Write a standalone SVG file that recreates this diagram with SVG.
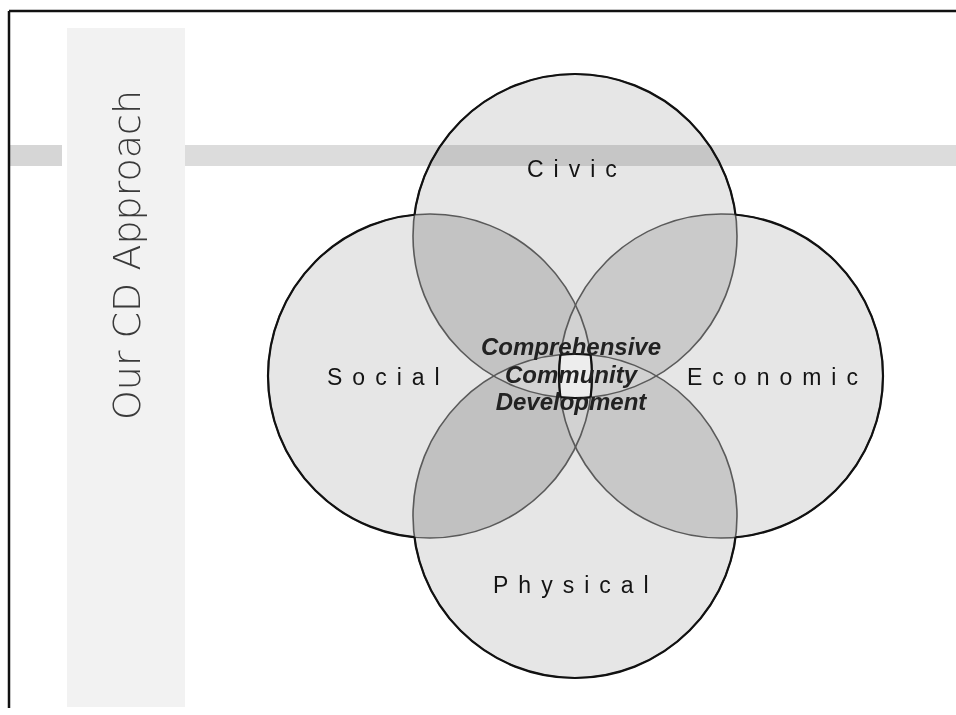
<svg xmlns="http://www.w3.org/2000/svg" width="956" height="715" viewBox="0 0 956 715">
  <style>
    .label { font-family: "Liberation Sans", Arial, sans-serif; font-size: 23px; letter-spacing: 10px; fill: #141414; }
    .core { font-family: "Liberation Sans", Arial, sans-serif; font-size: 24px; font-weight: bold; font-style: italic; fill: #222; text-anchor: middle; }
    .title { font-family: "DejaVu Sans", sans-serif; font-weight: 200; font-size: 38px; fill: #3a3a3a; }
    .ring { fill: none; stroke: #5a5a5a; stroke-width: 1.6; }
    .ring-dark { fill: none; stroke: #111; stroke-width: 2.2; }
  </style>
  <defs>
    <circle id="c-civic" cx="575" cy="236" r="162"/>
    <circle id="c-social" cx="430" cy="376" r="162"/>
    <circle id="c-economic" cx="721" cy="376" r="162"/>
    <circle id="c-physical" cx="575" cy="516" r="162"/>
    <clipPath id="cp-civic"><use href="#c-civic"/></clipPath>
    <clipPath id="cp-social"><use href="#c-social"/></clipPath>
    <clipPath id="cp-economic"><use href="#c-economic"/></clipPath>
    <clipPath id="cp-physical"><use href="#c-physical"/></clipPath>
    <!-- masks keep only the part of a ring lying outside the other circles -->
    <mask id="m-civic" maskUnits="userSpaceOnUse" x="0" y="0" width="956" height="715">
      <rect width="956" height="715" fill="#fff"/>
      <use href="#c-social" fill="#000"/><use href="#c-economic" fill="#000"/><use href="#c-physical" fill="#000"/>
    </mask>
    <mask id="m-social" maskUnits="userSpaceOnUse" x="0" y="0" width="956" height="715">
      <rect width="956" height="715" fill="#fff"/>
      <use href="#c-civic" fill="#000"/><use href="#c-economic" fill="#000"/><use href="#c-physical" fill="#000"/>
    </mask>
    <mask id="m-economic" maskUnits="userSpaceOnUse" x="0" y="0" width="956" height="715">
      <rect width="956" height="715" fill="#fff"/>
      <use href="#c-civic" fill="#000"/><use href="#c-social" fill="#000"/><use href="#c-physical" fill="#000"/>
    </mask>
    <mask id="m-physical" maskUnits="userSpaceOnUse" x="0" y="0" width="956" height="715">
      <rect width="956" height="715" fill="#fff"/>
      <use href="#c-civic" fill="#000"/><use href="#c-social" fill="#000"/><use href="#c-economic" fill="#000"/>
    </mask>
  </defs>

  <!-- slide background and frame -->
  <rect width="956" height="715" fill="#fff"/>
  <rect x="67" y="28" width="118" height="679" fill="#f2f2f2"/>
  <path d="M9 11 H956 M9 11 V708" fill="none" stroke="#111" stroke-width="2.5"/>

  <!-- base fills of the four circles -->
  <g id="fills">
    <use href="#c-civic" fill="#e6e6e6"/>
    <use href="#c-social" fill="#e6e6e6"/>
    <use href="#c-economic" fill="#e6e6e6"/>
    <use href="#c-physical" fill="#e6e6e6"/>
  </g>

  <!-- horizontal accent band (shows through the circles) -->
  <g id="band" style="mix-blend-mode: multiply">
    <rect x="10" y="145" width="52" height="21" fill="#d6d6d6"/>
    <rect x="185" y="145" width="771" height="21" fill="#dcdcdc"/>
  </g>

  <!-- overlap shading -->
  <g id="overlaps">
    <use href="#c-social" fill="#c3c3c3" clip-path="url(#cp-civic)"/>
    <use href="#c-economic" fill="#cacaca" clip-path="url(#cp-civic)"/>
    <use href="#c-social" fill="#c1c1c1" clip-path="url(#cp-physical)"/>
    <use href="#c-economic" fill="#c8c8c8" clip-path="url(#cp-physical)"/>
    <use href="#c-physical" fill="#d2d2d2" clip-path="url(#cp-civic)"/>
    <use href="#c-economic" fill="#d2d2d2" clip-path="url(#cp-social)"/>
    <g clip-path="url(#cp-civic)"><g clip-path="url(#cp-physical)">
      <use href="#c-economic" fill="#ededed" clip-path="url(#cp-social)"/>
    </g></g>
  </g>

  <!-- circle outlines: soft inside, dark on the outer edge and round the core -->
  <g id="outlines">
    <use href="#c-civic" class="ring"/>
    <use href="#c-social" class="ring"/>
    <use href="#c-economic" class="ring"/>
    <use href="#c-physical" class="ring"/>
    <use href="#c-civic" class="ring-dark" mask="url(#m-civic)"/>
    <use href="#c-social" class="ring-dark" mask="url(#m-social)"/>
    <use href="#c-economic" class="ring-dark" mask="url(#m-economic)"/>
    <use href="#c-physical" class="ring-dark" mask="url(#m-physical)"/>
    <g clip-path="url(#cp-civic)"><g clip-path="url(#cp-physical)">
      <use href="#c-economic" class="ring-dark" clip-path="url(#cp-social)"/>
      <use href="#c-social" class="ring-dark" clip-path="url(#cp-economic)"/>
    </g></g>
    <g clip-path="url(#cp-social)"><g clip-path="url(#cp-economic)">
      <use href="#c-civic" class="ring-dark" clip-path="url(#cp-physical)"/>
      <use href="#c-physical" class="ring-dark" clip-path="url(#cp-civic)"/>
    </g></g>
  </g>

  <!-- nodes -->
  <g id="civic"><text class="label" x="527" y="177">Civic</text></g>
  <g id="social"><text class="label" x="327" y="385">Social</text></g>
  <g id="economic"><text class="label" x="687" y="385">Economic</text></g>
  <g id="physical"><text class="label" x="493" y="593">Physical</text></g>
  <g id="core">
    <text class="core" x="571" y="355">Comprehensive</text>
    <text class="core" x="571" y="383">Community</text>
    <text class="core" x="571" y="410">Development</text>
  </g>

  <!-- slide title -->
  <g id="title">
    <text class="title" transform="translate(140,90) rotate(-90)" text-anchor="end">Our CD Approach</text>
  </g>
</svg>
